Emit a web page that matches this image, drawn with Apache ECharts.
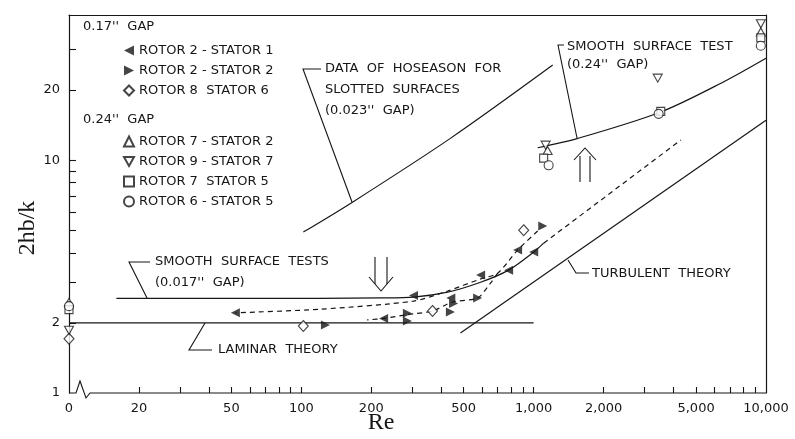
<!DOCTYPE html>
<html><head><meta charset="utf-8">
<script src="https://cdn.jsdelivr.net/npm/echarts@6/dist/echarts.min.js"></script>
<style>html,body{margin:0;padding:0;background:#fff}#c{width:795px;height:439px}</style>
</head><body><div id="c"></div>
<script>
// ---- axis ticks / labels ----
const xTickValues = [20,30,40,50,60,70,80,90,100,200,300,400,500,600,700,800,900,1000,2000,3000,4000,5000,6000,7000,8000,9000];
const xLabelValues = [10,20,50,100,200,500,1000,2000,5000,10000];
const xLabelText = ['0','20','50','100','200','500','1,000','2,000','5,000','10,000'];
const yTickValues = [2,3,4,5,6,7,8,9,10,20,30];
const yLabelValues = [1,2,10,20];

// ---- curves (Re, 2hb/k) ; Re = 10 stands for the broken "0" position ----
const laminarTheory = [[10,2],[1000,2]];
const smooth017 = [[16,2.55],[120,2.55],[219,2.56],[304,2.58],[426,2.71],[591,2.99],[780,3.37],[1000,4.03],[1104,4.4]];
const smooth017Ext = [[1104,4.4],[4300,12.2]];
const turbulentTheory = [[484,1.81],[10000,14.85]];
const smooth024 = [[1040,11.3],[1549,12.4],[3524,16.1],[6400,21.4],[10000,27.4]];
const hoseason = [[102,4.91],[166,6.6],[438,12.4],[1208,25.6]];
const loopUpper = [[1040,4.96],[853,4.11],[700,3.27],[591,3.09],[426,2.74],[304,2.48],[121,2.29],[52,2.21]];
const loopLower = [[700,3.27],[653,2.97],[574,2.56],[448,2.46],[367,2.25],[286,2.17],[226,2.09],[192,2.06]];

// ---- measured points ----
const r2s1 = [[52,2.21],[226,2.09],[304,2.62],[440,2.56],[591,3.21],[780,3.37],[853,4.11],[1000,4.03]];
const r2s2 = [[127,1.96],[286,2.20],[286,2.04],[438,2.23],[452,2.42],[574,2.56],[1094,5.21]];
const r8s6 = [[10,1.71],[102,1.94],[367,2.25],[906,5.0]];
const r7s2 = [[10,2.45],[1148,11.0],[9500,35.5]];
const r9s7 = [[10,1.86],[1126,11.6],[3420,22.5],[9500,38.5]];
const r7s5 = [[10,2.28],[1104,10.2],[3524,16.2],[9500,33.5]];
const r6s5 = [[10,2.36],[1160,9.5],[3450,15.8],[9500,31]];

const FONT = "'DejaVu Sans', sans-serif";
const INK = '#161616';
const chart = echarts.init(document.getElementById('c'));

function lineSeries(name, data, dashed, smooth) {
  return {name, type:'line', data, symbol:'none', smooth: smooth || false, silent:true,
    lineStyle:{color:INK, width:1.2, type: dashed ? [5,4] : 'solid'}, z:2};
}
function scatterSeries(name, data, symbol, size, filled) {
  return {name, type:'scatter', data, symbol, symbolSize:size, silent:true,
    itemStyle: filled ? {color:INK} : {color:'#fff', borderColor:INK, borderWidth:1.1}, z:3};
}
const LEFT_TRI = 'path://M10,0L0,5L10,10Z';
const RIGHT_TRI = 'path://M0,0L10,5L0,10Z';
const DOWN_TRI = 'path://M0,0L10,0L5,9Z';

const labels = [
  ["0.17''  GAP", 83, 27],
  ["0.24''  GAP", 83, 120],
  ["SMOOTH  SURFACE  TESTS", 155, 262],
  ["(0.017''  GAP)", 155, 283],
  ["LAMINAR  THEORY", 218, 350],
  ["TURBULENT  THEORY", 592, 274],
  ["DATA  OF  HOSEASON  FOR", 325, 69],
  ["SLOTTED  SURFACES", 325, 90],
  ["(0.023''  GAP)", 325, 111],
  ["SMOOTH  SURFACE  TEST", 567, 47],
  ["(0.24''  GAP)", 567, 65]
];
const leaders = [
  [[150,262],[129,262],[147,298]],
  [[212,350],[189,350],[205,323]],
  [[321,69],[303,69],[352,202]],
  [[564,45],[558,45],[577,138]],
  [[589,273],[576,273],[568,260]],
  // hollow arrows
  [[375,257],[375,284]], [[387,257],[387,284]], [[369,277],[381,291],[393,277]],
  [[580,182],[580,156]], [[590,182],[590,156]], [[574,160],[585,148],[596,160]],
  // broken x axis
  [[69,393],[76,393],[80,381],[86,398],[90,393],[766,393]]
];

const graphic = [];
labels.forEach(([t,x,y]) => graphic.push({type:'text', x, y, silent:true,
  style:{text:t, font:`13px ${FONT}`, fill:INK, textVerticalAlign:'middle'}}));
leaders.forEach(p => graphic.push({type:'polyline', silent:true, shape:{points:p},
  style:{stroke:INK, lineWidth:1.1, fill:null}}));
graphic.push({type:'text', x:381, y:423, silent:true,
  style:{text:'Re', font:"24px 'Liberation Serif', serif", fill:INK, textAlign:'center', textVerticalAlign:'middle'}});
graphic.push({type:'text', x:28, y:228, rotation:Math.PI/2, silent:true,
  style:{text:'2hb/k', font:"24px 'Liberation Serif', serif", fill:INK, textAlign:'center', textVerticalAlign:'middle'}});

const legendCommon = {orient:'vertical', left:118, itemWidth:10, itemHeight:10, itemGap:7,
  selectedMode:false, textStyle:{fontFamily:FONT, fontSize:13, color:INK}};

chart.setOption({
  animation:false,
  backgroundColor:'#fff',
  grid:{left:69, right:29, top:15, bottom:46},
  xAxis:[{
    type:'log', min:10, max:10000, position:'bottom',
    axisLine:{show:false},
    axisTick:{show:true, inside:true, length:6, customValues:xTickValues, lineStyle:{color:INK, width:1.1}},
    axisLabel:{customValues:xLabelValues, margin:9, fontFamily:FONT, fontSize:13, color:INK,
      formatter: v => xLabelText[xLabelValues.indexOf(Math.round(v))] ?? ''},
    splitLine:{show:false}, minorTick:{show:false}
  },{
    type:'log', min:10, max:10000, position:'top',
    axisLine:{show:true, lineStyle:{color:INK, width:1.2}},
    axisTick:{show:false}, axisLabel:{show:false}, splitLine:{show:false}
  }],
  yAxis:[{
    type:'log', min:1, max:42, position:'left',
    axisLine:{show:true, lineStyle:{color:INK, width:1.2}},
    axisTick:{show:true, inside:true, length:7, customValues:yTickValues, lineStyle:{color:INK, width:1.1}},
    axisLabel:{customValues:yLabelValues, margin:9, fontFamily:FONT, fontSize:13, color:INK,
      formatter: v => String(Math.round(v))},
    splitLine:{show:false}
  },{
    type:'log', min:1, max:42, position:'right',
    axisLine:{show:true, lineStyle:{color:INK, width:1.2}},
    axisTick:{show:false}, axisLabel:{show:false}, splitLine:{show:false}
  }],
  legend:[
    Object.assign({top:39, data:['ROTOR 2 - STATOR 1','ROTOR 2 - STATOR 2','ROTOR 8  STATOR 6']}, legendCommon),
    Object.assign({top:130, data:['ROTOR 7 - STATOR 2','ROTOR 9 - STATOR 7','ROTOR 7  STATOR 5','ROTOR 6 - STATOR 5']}, legendCommon)
  ],
  graphic,
  series:[
    lineSeries('Laminar theory', laminarTheory, false, false),
    lineSeries('Smooth 0.017', smooth017, false, 0.3),
    lineSeries('Smooth 0.017 ext', smooth017Ext, true, false),
    lineSeries('Turbulent theory', turbulentTheory, false, false),
    lineSeries('Smooth 0.24', smooth024, false, 0.3),
    lineSeries('Hoseason', hoseason, false, 0.3),
    lineSeries('Loop upper', loopUpper, true, 0.25),
    lineSeries('Loop lower', loopLower, true, 0.25),
    scatterSeries('ROTOR 2 - STATOR 1', r2s1, LEFT_TRI, [9,9], true),
    scatterSeries('ROTOR 2 - STATOR 2', r2s2, RIGHT_TRI, [9,9], true),
    scatterSeries('ROTOR 8  STATOR 6', r8s6, 'diamond', [10,11], false),
    scatterSeries('ROTOR 7 - STATOR 2', r7s2, 'triangle', [9,8], false),
    scatterSeries('ROTOR 9 - STATOR 7', r9s7, DOWN_TRI, [9,8], false),
    scatterSeries('ROTOR 7  STATOR 5', r7s5, 'rect', [8,8], false),
    scatterSeries('ROTOR 6 - STATOR 5', r6s5, 'circle', [9,9], false)
  ]
});
</script></body></html>
